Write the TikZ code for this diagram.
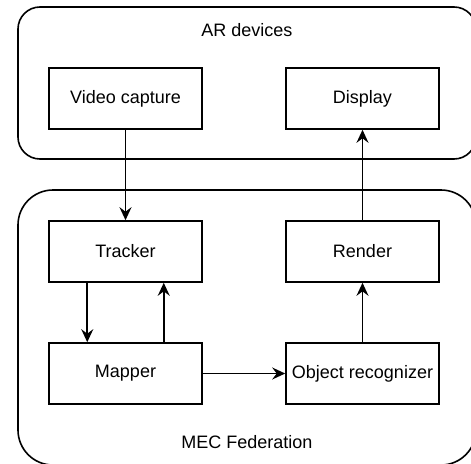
\documentclass[tikz,border=0pt]{standalone}
\usepackage{fontspec}
\setmainfont{Liberation Sans}
\usetikzlibrary{arrows.meta}

\tikzset{
    block/.style={draw, line width=1.6pt, minimum width=153pt, minimum height=61pt, inner sep=0pt, font=\fontsize{18}{21}\selectfont},
    group/.style={draw, line width=1.6pt, inner sep=0pt},
    grouplabel/.style={font=\fontsize{18}{21}\selectfont},
    flow/.style={line width=1.6pt, -{Stealth[length=13pt, width=12pt, inset=4.5pt]}}
}

\begin{document}
\begin{tikzpicture}[x=1pt, y=-1pt]
    % Define parameters
    \def\leftX{125.5}      % Centre of the left column
    \def\rightX{362.5}     % Centre of the right column
    \def\quarter{38.25}    % Quarter of a block width

    \useasboundingbox (0,0) rectangle (471,463);
    \clip (0,0) rectangle (471,463);

    % AR devices group
    \node[group, rounded corners=22pt, minimum width=458pt, minimum height=152pt] (ardev) at (247, 83) {};
    \node[grouplabel] (arlabel) at (247, 30) {AR devices};

    % MEC Federation group
    \node[group, rounded corners=35pt, minimum width=458pt, minimum height=275pt] (mec) at (247, 327.5) {};
    \node[grouplabel] (meclabel) at (247, 442) {MEC Federation};

    % Blocks
    \node[block] (video) at (\leftX, 98.5) {Video capture};
    \node[block] (display) at (\rightX, 98.5) {Display};
    \node[block] (tracker) at (\leftX, 251.5) {Tracker};
    \node[block] (render) at (\rightX, 251.5) {Render};
    \node[block] (mapper) at (\leftX, 373.5) {Mapper};
    \node[block] (objrec) at (\rightX, 373.5) {Object recognizer};

    % Connections
    \draw[flow] (video.south) -- (tracker.north);
    \draw[flow] (render.north) -- (display.south);
    \draw[flow] ([xshift=-\quarter pt]tracker.south) -- ([xshift=-\quarter pt]mapper.north);
    \draw[flow] ([xshift=\quarter pt]mapper.north) -- ([xshift=\quarter pt]tracker.south);
    \draw[flow] (mapper.east) -- (objrec.west);
    \draw[flow] (objrec.north) -- (render.south);
\end{tikzpicture}
\end{document}
